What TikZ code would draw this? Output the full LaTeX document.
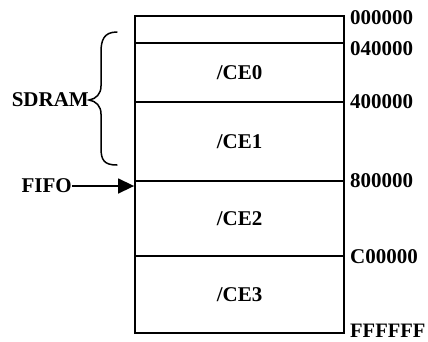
\documentclass[tikz,border=0pt]{standalone}
\usepackage{fontspec}
\setmainfont{Liberation Serif}
\usetikzlibrary{arrows.meta}
\begin{document}
\begin{tikzpicture}[x=1pt,y=-1pt,
  lbl/.style={font=\fontsize{21}{24}\selectfont\bfseries, inner sep=0pt},
  cell/.style={draw, line width=1.8pt, minimum width=209pt, inner sep=0pt, font=\fontsize{21}{24}\selectfont\bfseries},
  addr/.style={lbl, anchor=west},
  bracestyle/.style={line width=1.5pt, line cap=round}]
\useasboundingbox (0,0) rectangle (428,341);
\node[cell, minimum height=27pt] (top) at (239.5,29.5) {};
\node[cell, minimum height=59pt] (ce0) at (239.5,72.5) {/CE0};
\node[cell, minimum height=79pt] (ce1) at (239.5,141.5) {/CE1};
\node[cell, minimum height=75pt] (ce2) at (239.5,218.5) {/CE2};
\node[cell, minimum height=77pt] (ce3) at (239.5,294.5) {/CE3};
\node[addr] (a0) at (350,18) {000000};
\node[addr] (a1) at (350,49) {040000};
\node[addr] (a2) at (350,102) {400000};
\node[addr] (a3) at (350,181) {800000};
\node[addr] (a4) at (350,257) {C00000};
\node[addr, font=\fontsize{20.5}{24}\selectfont\bfseries] (a5) at (350,331) {FFFFFF};
\node[lbl, anchor=east] (sdram) at (89,100) {SDRAM};
\node[lbl, anchor=east] (fifo) at (72,186) {FIFO};
\draw[line width=1.5pt, -{Triangle[length=16pt,width=15pt]}] (fifo.east) -- (fifo.east -| ce2.west);
\coordinate (bt) at (117,32);
\coordinate (bb) at (117,165);
\coordinate (btip) at (sdram.east);
\draw[bracestyle] (bt) .. controls (104,32) and (101,40) .. (101,52)
  -- (101,86) .. controls (101,94) and (96,99) .. (btip)
  .. controls (96,101) and (101,106) .. (101,114)
  -- (101,148) .. controls (101,160) and (104,165) .. (bb);
\end{tikzpicture}
\end{document}
